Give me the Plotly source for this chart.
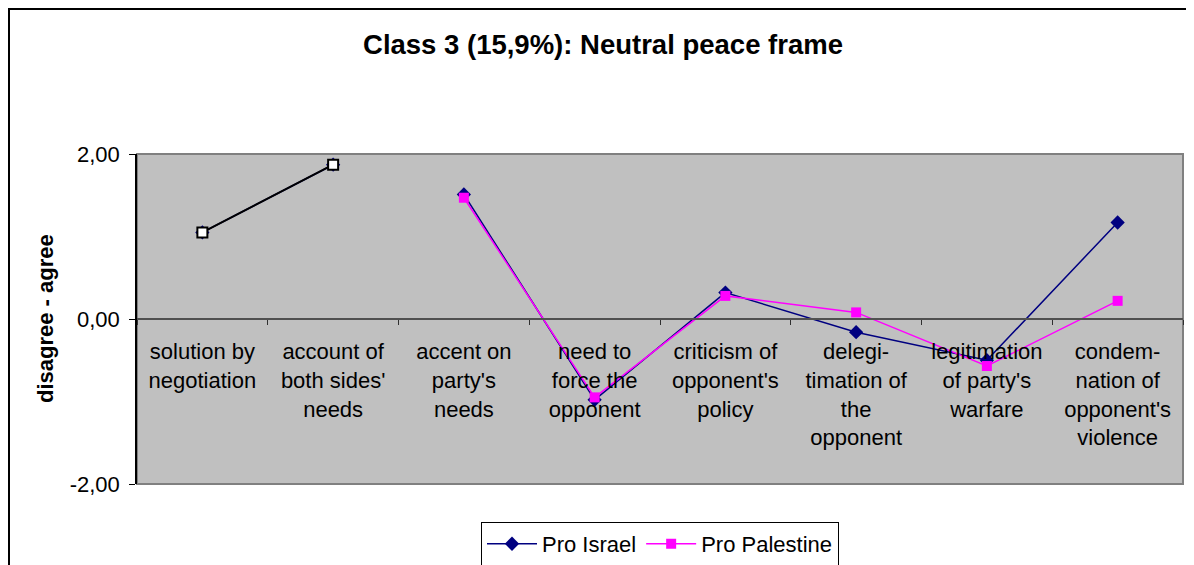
import plotly.graph_objects as go

categories = [
    "solution by<br>negotiation",
    "account of<br>both sides'<br>needs",
    "accent on<br>party's<br>needs",
    "need to<br>force the<br>opponent",
    "criticism of<br>opponent's<br>policy",
    "delegi-<br>timation of<br>the<br>opponent",
    "legitimation<br>of party's<br>warfare",
    "condem-<br>nation of<br>opponent's<br>violence",
]
pro_israel = [1.05, 1.87, 1.51, -0.98, 0.32, -0.16, -0.50, 1.17]
pro_palestine = [1.05, 1.87, 1.47, -0.95, 0.28, 0.08, -0.57, 0.22]

NAVY = "#000080"
MAGENTA = "#FF00FF"
FONT = "Liberation Sans, Arial, sans-serif"

W, H = 1186, 557
L, R, T, B = 129, 11, 146, 81
PW, PH = W - L - R, H - T - B

fig = go.Figure()

# shared first two categories, drawn as black line with white squares
fig.add_trace(go.Scatter(
    x=categories[:2], y=pro_israel[:2], mode="lines+markers",
    line=dict(color=NAVY, width=1.5),
    marker=dict(symbol="diamond", size=11, color=NAVY),
    showlegend=False, hoverinfo="skip",
))
fig.add_trace(go.Scatter(
    x=categories[:2], y=pro_palestine[:2], mode="lines+markers",
    line=dict(color="black", width=2),
    marker=dict(symbol="square", size=10, color="white",
                line=dict(color="black", width=2)),
    showlegend=False, hoverinfo="skip",
))
fig.add_trace(go.Scatter(
    x=categories[2:], y=pro_israel[2:], mode="lines+markers", name="Pro Israel",
    line=dict(color=NAVY, width=1.5),
    marker=dict(symbol="diamond", size=11, color=NAVY),
))
fig.add_trace(go.Scatter(
    x=categories[2:], y=pro_palestine[2:], mode="lines+markers", name="Pro Palestine",
    line=dict(color=MAGENTA, width=1.5),
    marker=dict(symbol="square", size=10, color=MAGENTA),
))

fig.update_layout(
    width=W, height=H,
    margin=dict(l=L, r=R, t=T, b=B, autoexpand=False),
    paper_bgcolor="white",
    plot_bgcolor="#C0C0C0",
    font=dict(family=FONT, size=22, color="black"),
    title=dict(
        text="<b>Class 3 (15,9%): Neutral peace frame</b>",
        font=dict(size=27.5, family=FONT, color="black"),
        x=595 / W, xanchor="center", xref="container",
        y=1 - 36 / H, yanchor="middle", yref="container",
    ),
    legend=dict(
        orientation="h", x=0.5, xanchor="center", y=-0.115, yanchor="top",
        bordercolor="black", borderwidth=1, bgcolor="white",
        font=dict(size=22, family=FONT),
        itemwidth=50, tracegroupgap=0,
    ),
    showlegend=True,
)

fig.update_xaxes(
    type="category", categoryorder="array", categoryarray=categories,
    range=[-0.5, len(categories) - 0.5],
    anchor="free", position=0.5, automargin=False,
    showline=True, linecolor="#505050", linewidth=2,
    ticks="outside", tickson="boundaries", ticklen=5, tickcolor="#303030", tickwidth=1,
    showgrid=False, zeroline=False, ticklabelstandoff=13,
    tickfont=dict(size=22, family=FONT),
)
fig.update_yaxes(
    range=[-2, 2], tickvals=[-2, 0, 2], ticktext=["-2,00", "0,00", "2,00"],
    automargin=False,
    showline=True, linecolor="black", linewidth=1.5,
    ticks="outside", ticklen=6, tickcolor="black",
    showgrid=False, zeroline=False, ticklabelstandoff=5,
    tickfont=dict(size=22, family=FONT),
)

# plot area border
fig.add_shape(type="rect", xref="paper", yref="paper", x0=0, x1=1, y0=0, y1=1,
              line=dict(color="#808080", width=2), layer="below")
# outer chart frame (left and top edges visible)
fig.add_shape(type="rect", xref="paper", yref="paper",
              x0=(1 - L) / PW, x1=1.2, y0=-0.5, y1=(PH + T - 1) / PH,
              line=dict(color="black", width=2), layer="below")

fig.add_annotation(
    text="<b>disagree - agree</b>", textangle=-90,
    xref="paper", yref="paper", x=(37 - L) / PW, y=0.5,
    xanchor="center", yanchor="middle", showarrow=False,
    font=dict(size=22, family=FONT),
)

fig.write_html("out.html")
